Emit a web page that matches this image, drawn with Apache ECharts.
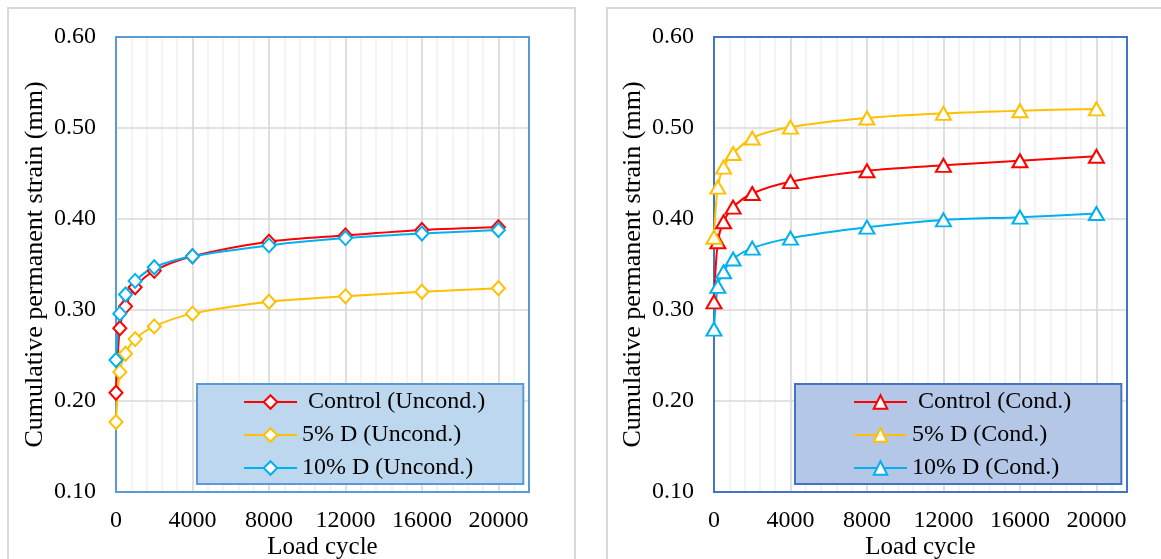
<!DOCTYPE html>
<html>
<head>
<meta charset="utf-8">
<script src="https://cdn.jsdelivr.net/npm/echarts@6/dist/echarts.min.js"></script>
<style>
  html, body { margin: 0; padding: 0; background: #fff; }
  #chart { width: 1161px; height: 559px; }
</style>
</head>
<body>
<div id="chart"></div>
<script>
// load cycles where strain was recorded
const cycles = [0, 200, 500, 1000, 2000, 4000, 8000, 12000, 16000, 20000]

// unconditioned samples (left)
const uncondControl = [0.209, 0.280, 0.304, 0.325, 0.343, 0.359, 0.375, 0.382, 0.388, 0.391]
const uncond5D = [0.177, 0.232, 0.252, 0.268, 0.282, 0.296, 0.309, 0.315, 0.320, 0.324]
const uncond10D = [0.245, 0.296, 0.317, 0.332, 0.347, 0.359, 0.371, 0.379, 0.384, 0.388]

// conditioned samples (right)
const condControl = [0.309, 0.375, 0.397, 0.413, 0.428, 0.441, 0.453, 0.459, 0.464, 0.469]
const cond5D = [0.380, 0.435, 0.457, 0.472, 0.489, 0.501, 0.511, 0.516, 0.519, 0.521]
const cond10D = [0.279, 0.326, 0.342, 0.356, 0.368, 0.379, 0.391, 0.399, 0.402, 0.406]

const xTickLabels = [0, 4000, 8000, 12000, 16000, 20000]
const yTickLabels = ['0.10', '0.20', '0.30', '0.40', '0.50', '0.60']

const FONT = 'Liberation Serif'
const X_MAX = 21600
const RED = '#ff0000'
const YELLOW = '#ffc000'
const BLUE = '#00b0f0'

const chart = echarts.init(document.getElementById('chart'), null, { renderer: 'canvas' })

const panels = [
  {
    left: 116,
    border: '#5b9bd5',
    legendBg: '#bdd7ee',
    legendLeft: 197,
    legendPad: [6, 38, 4, 46],
    symbol: 'diamond',
    symbolSize: [13, 14],
    series: [
      { name: 'Control (Uncond.)', color: RED, values: uncondControl },
      { name: '5% D (Uncond.)', color: YELLOW, values: uncond5D },
      { name: '10% D (Uncond.)', color: BLUE, values: uncond10D }
    ]
  },
  {
    left: 714,
    border: '#4472c4',
    legendBg: '#b4c7e7',
    legendLeft: 795,
    legendPad: [6, 50, 4, 58],
    symbol: 'triangle',
    symbolSize: [15, 13],
    series: [
      { name: 'Control (Cond.)', color: RED, values: condControl },
      { name: '5% D (Cond.)', color: YELLOW, values: cond5D },
      { name: '10% D (Cond.)', color: BLUE, values: cond10D }
    ]
  }
]

const grid = []
const xAxis = []
const yAxis = []
const series = []
const legend = []
const graphic = []

panels.forEach((p, i) => {
  grid.push({ left: p.left, top: 37, width: 413, height: 455, outerBoundsMode: 'none' })

  // major axis, labels every 4000
  xAxis.push({
    type: 'value',
    gridIndex: i,
    min: 0,
    max: X_MAX,
    interval: 4000,
    z: 2,
    name: 'Load cycle',
    nameLocation: 'middle',
    nameGap: 43,
    nameMoveOverlap: false,
    nameTextStyle: { fontFamily: FONT, fontSize: 25, color: '#000' },
    axisLine: { show: false },
    axisTick: { show: false },
    axisLabel: {
      fontFamily: FONT,
      fontSize: 24,
      color: '#000',
      margin: 17,
      showMaxLabel: false,
      formatter: (v) => (xTickLabels.includes(v) ? String(v) : '')
    },
    splitLine: { show: true, lineStyle: { color: '#d9d9d9', width: 1.5 } }
  })
  // minor vertical gridlines
  xAxis.push({
    type: 'value',
    gridIndex: i,
    min: 0,
    max: X_MAX,
    interval: 800,
    z: 1,
    axisLine: { show: false },
    axisTick: { show: false },
    axisLabel: { show: false },
    splitLine: { show: true, lineStyle: { color: '#f0f0f0', width: 1.5 } }
  })

  yAxis.push({
    type: 'value',
    gridIndex: i,
    min: 0.1,
    max: 0.6,
    interval: 0.1,
    z: 2,
    name: 'Cumulative permanent strain (mm)',
    nameLocation: 'middle',
    nameRotate: 90,
    nameGap: 68,
    nameMoveOverlap: false,
    nameTextStyle: { fontFamily: FONT, fontSize: 26, color: '#000' },
    axisLine: { show: false },
    axisTick: { show: false },
    axisLabel: {
      fontFamily: FONT,
      fontSize: 24,
      color: '#000',
      margin: 20,
      formatter: (v) => yTickLabels.find((t) => Math.abs(+t - v) < 1e-9) || ''
    },
    splitLine: { show: true, lineStyle: { color: '#d9d9d9', width: 1.5 } }
  })

  p.series.forEach((s) => {
    series.push({
      name: s.name,
      type: 'line',
      xAxisIndex: i * 2,
      yAxisIndex: i,
      z: 5,
      smooth: 0.3,
      symbol: p.symbol,
      symbolSize: p.symbolSize,
      color: s.color,
      lineStyle: { color: s.color, width: 2 },
      itemStyle: { color: '#fff', borderColor: s.color, borderWidth: 2 },
      data: cycles.map((c, k) => [c, s.values[k]])
    })
  })

  legend.push({
    data: p.series.map((s) => s.name),
    orient: 'vertical',
    left: p.legendLeft,
    top: 384,
    z: 6,
    padding: p.legendPad,
    itemWidth: 53,
    itemHeight: 17,
    itemGap: 9,
    selectedMode: false,
    backgroundColor: p.legendBg,
    borderColor: p.border,
    borderWidth: 2,
    formatter: (name) => (name.startsWith('Control') ? ' ' + name : name),
    textStyle: { fontFamily: FONT, fontSize: 24, color: '#000' }
  })

  // plot area frame
  graphic.push({
    type: 'rect',
    z: 3,
    silent: true,
    shape: { x: p.left, y: 37, width: 413, height: 455 },
    style: { fill: null, stroke: p.border, lineWidth: 2 }
  })
})

// outer panel frames
graphic.push({
  type: 'rect', z: 0, silent: true,
  shape: { x: 8, y: 8, width: 567, height: 570 },
  style: { fill: null, stroke: '#d9d9d9', lineWidth: 2 }
})
graphic.push({
  type: 'rect', z: 0, silent: true,
  shape: { x: 607, y: 8, width: 600, height: 570 },
  style: { fill: null, stroke: '#d9d9d9', lineWidth: 2 }
})

chart.setOption({
  animation: false,
  backgroundColor: '#fff',
  grid,
  xAxis,
  yAxis,
  series,
  legend,
  graphic
})
</script>
</body>
</html>
